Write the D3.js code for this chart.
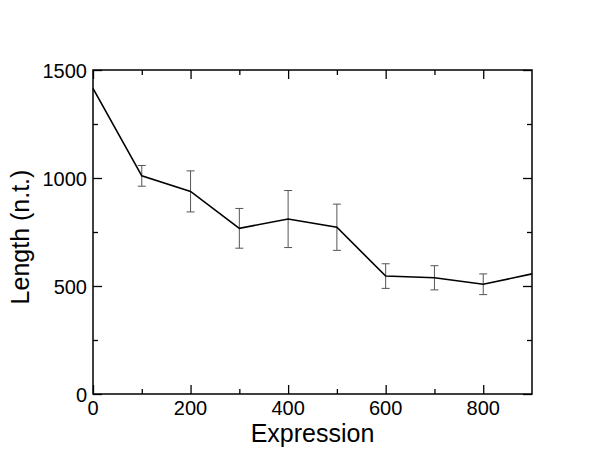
<!DOCTYPE html>
<html>
<head>
<meta charset="utf-8">
<script src="https://cdn.jsdelivr.net/npm/d3@7"></script>
<style>
  body { margin: 0; background: #fff; }
  text { font-family: "Liberation Sans", Arial, sans-serif; fill: #000; }
</style>
</head>
<body>
<div id="chart"></div>
<script>
const expression = [0, 100, 200, 300, 400, 500, 600, 700, 800, 900];
const lengths = [1415, 1010, 938, 767, 810, 772, 546, 538, 508, 556];
const errors = [0, 48, 95, 92, 132, 107, 57, 56, 48, 0];
const xMajorTicks = [0, 200, 400, 600, 800];
const xMinorTicks = [100, 300, 500, 700];
const yMajorTicks = [0, 500, 1000, 1500];
const yMinorTicks = [250, 750, 1250];

const width = 600;
const height = 464;
const margin = { top: 70, right: 68, bottom: 70, left: 93 };

const svg = d3
  .select("#chart")
  .append("svg")
  .attr("width", width)
  .attr("height", height);

const x = d3.scaleLinear().domain([0, 900]).range([margin.left, width - margin.right]);
const y = d3.scaleLinear().domain([0, 1500]).range([height - margin.bottom, margin.top]);

const data = expression.map((e, i) => ({ x: e, y: lengths[i], err: errors[i] }));

const plotW = width - margin.left - margin.right;
const plotH = height - margin.top - margin.bottom;

// inward ticks on all four sides
[
  [d3.axisBottom, x, `translate(0,${height - margin.bottom})`, xMajorTicks, 9],
  [d3.axisBottom, x, `translate(0,${height - margin.bottom})`, xMinorTicks, 5],
  [d3.axisTop, x, `translate(0,${margin.top})`, xMajorTicks, 9],
  [d3.axisTop, x, `translate(0,${margin.top})`, xMinorTicks, 5],
  [d3.axisLeft, y, `translate(${margin.left},0)`, yMajorTicks, 9],
  [d3.axisLeft, y, `translate(${margin.left},0)`, yMinorTicks, 5],
  [d3.axisRight, y, `translate(${width - margin.right},0)`, yMajorTicks, 9],
  [d3.axisRight, y, `translate(${width - margin.right},0)`, yMinorTicks, 5],
].forEach(([axis, scale, tr, vals, size]) => {
  const g = svg
    .append("g")
    .attr("transform", tr)
    .call(axis(scale).tickValues(vals).tickSize(-size).tickFormat(""));
  g.select(".domain").remove();
  g.selectAll("line").attr("stroke", "#000").attr("stroke-width", 1.3);
});

svg
  .append("rect")
  .attr("x", margin.left)
  .attr("y", margin.top)
  .attr("width", plotW)
  .attr("height", plotH)
  .attr("fill", "none")
  .attr("stroke", "#000")
  .attr("stroke-width", 1.5);

// tick labels
svg
  .append("g")
  .selectAll("text")
  .data(xMajorTicks)
  .enter()
  .append("text")
  .attr("x", (d) => x(d))
  .attr("y", height - margin.bottom + 21)
  .attr("text-anchor", "middle")
  .style("font-size", "20px")
  .text((d) => d);

svg
  .append("g")
  .selectAll("text")
  .data(yMajorTicks)
  .enter()
  .append("text")
  .attr("x", margin.left - 6)
  .attr("y", (d) => y(d) + 7.5)
  .attr("text-anchor", "end")
  .style("font-size", "20px")
  .text((d) => d);

// axis titles
svg
  .append("text")
  .attr("x", margin.left + plotW / 2)
  .attr("y", 442)
  .attr("text-anchor", "middle")
  .style("font-size", "25px")
  .text("Expression");

svg
  .append("text")
  .attr("transform", `translate(29,${margin.top + plotH / 2 + 5}) rotate(-90)`)
  .attr("text-anchor", "middle")
  .style("font-size", "25px")
  .text("Length (n.t.)");

// error bars
const eb = svg
  .append("g")
  .selectAll("g")
  .data(data.filter((d) => d.err > 0))
  .enter()
  .append("g")
  .attr("stroke", "#555")
  .attr("stroke-width", 1);

eb.append("line")
  .attr("x1", (d) => x(d.x))
  .attr("x2", (d) => x(d.x))
  .attr("y1", (d) => y(d.y - d.err))
  .attr("y2", (d) => y(d.y + d.err));
eb.append("line")
  .attr("x1", (d) => x(d.x) - 4)
  .attr("x2", (d) => x(d.x) + 4)
  .attr("y1", (d) => y(d.y + d.err))
  .attr("y2", (d) => y(d.y + d.err));
eb.append("line")
  .attr("x1", (d) => x(d.x) - 4)
  .attr("x2", (d) => x(d.x) + 4)
  .attr("y1", (d) => y(d.y - d.err))
  .attr("y2", (d) => y(d.y - d.err));

const line = d3
  .line()
  .x((d) => x(d.x))
  .y((d) => y(d.y));

svg
  .append("path")
  .datum(data)
  .attr("d", line)
  .attr("fill", "none")
  .attr("stroke", "#000")
  .attr("stroke-width", 1.6);
</script>
</body>
</html>
